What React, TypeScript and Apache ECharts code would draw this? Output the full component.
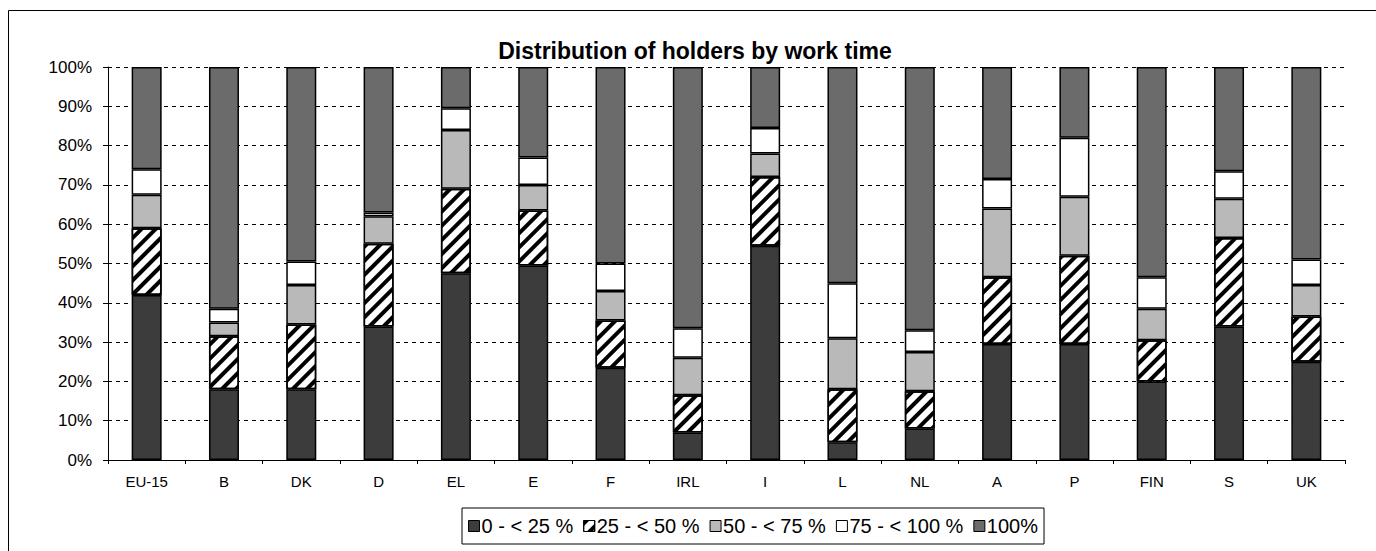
import React, { useEffect, useRef } from "react";
import * as echarts from "echarts";

const categories = ["EU-15", "B", "DK", "D", "EL", "E", "F", "IRL", "I", "L", "NL", "A", "P", "FIN", "S", "UK"];
const seriesNames = ["0 - < 25 %", "25 - < 50 %", "50 - < 75 %", "75 - < 100 %", "100%"];
const s0to25 = [42, 18, 18, 34, 47.5, 49.5, 23.5, 7, 54.5, 4.5, 8, 29.5, 29.5, 20, 34, 25];
const s25to50 = [17, 13.5, 16.5, 21, 21.5, 14, 12, 9.5, 17.5, 13.5, 9.5, 17, 22.5, 10.5, 22.5, 11.5];
const s50to75 = [8.5, 3.5, 10, 7, 15, 6.5, 7.5, 9.5, 6, 13, 10, 17.5, 15, 8, 10, 8];
const s75to100 = [6.5, 3.5, 6, 1, 5.5, 7, 7, 7.5, 6.5, 14, 5.5, 7.5, 15, 8, 7, 6.5];
const s100 = [26, 61.5, 49.5, 37, 10.5, 23, 50, 66.5, 15.5, 55, 67, 28.5, 18, 53.5, 26.5, 49];
const yTicks = [0, 10, 20, 30, 40, 50, 60, 70, 80, 90, 100];

const FONT = "Arial, 'Liberation Sans', sans-serif";

export default function App() {
  const ref = useRef<HTMLDivElement>(null);
  useEffect(() => {
    document.body.style.margin = "0";
    const chart = echarts.init(ref.current!, null, { renderer: "svg" });
    const values = [s0to25, s25to50, s50to75, s75to100, s100];
    const colors = ["#3c3c3c", "#ffffff", "#b9b9b9", "#ffffff", "#6b6b6b"];
    const series = values.map((v, i) => ({
      name: seriesNames[i],
      type: "bar",
      stack: "total",
      barWidth: 30,
      data: v,
      itemStyle: {
        color: colors[i],
        borderColor: "#000",
        borderWidth: 1.5,
        decal:
          i === 1
            ? {
                symbol: "rect",
                symbolSize: 1,
                color: "#000",
                dashArrayX: [1, 0],
                dashArrayY: [4, 6],
                rotation: -Math.PI / 4,
              }
            : "none",
      },
    }));
    chart.setOption({
      animation: false,
      backgroundColor: "#fff",
      title: {
        text: "Distribution of holders by work time",
        left: 690,
        textAlign: "center",
        top: 34,
        textStyle: { fontFamily: FONT, fontSize: 23, fontWeight: "bold", color: "#000" },
      },
      grid: { left: 108, right: 31, top: 67, bottom: 91 },
      legend: {
        left: 462,
        top: 508,
        itemWidth: 11,
        itemHeight: 11,
        itemGap: 10,
        icon: "rect",
        borderColor: "#000",
        borderWidth: 1,
        padding: [8, 6, 8, 6],
        textStyle: { fontFamily: FONT, fontSize: 20, color: "#000", padding: [0, 0, 0, -3] },
        itemStyle: { borderColor: "#000", borderWidth: 1 },
        data: seriesNames,
      },
      xAxis: {
        type: "category",
        data: categories,
        axisLine: { lineStyle: { color: "#000", width: 1 } },
        axisTick: { show: true, length: 4, lineStyle: { color: "#000" } },
        axisLabel: { fontFamily: FONT, fontSize: 15, color: "#000", margin: 14 },
      },
      yAxis: {
        type: "value",
        min: 0,
        max: 100,
        interval: 10,
        axisLine: { show: true, lineStyle: { color: "#000" } },
        axisTick: { show: true, length: 5, lineStyle: { color: "#000" } },
        axisLabel: {
          fontFamily: FONT,
          fontSize: 17,
          color: "#000",
          margin: 16,
          formatter: (v: number) => (yTicks.includes(v) ? v + "%" : ""),
        },
        splitLine: { show: true, lineStyle: { color: "#000", type: [4, 4], width: 1 } },
      },
      series,
      graphic: [
        {
          type: "rect",
          shape: { x: 8.5, y: 10.5, width: 1400, height: 600 },
          style: { fill: "none", stroke: "#000", lineWidth: 1 },
          silent: true,
        },
      ],
    });
    return () => chart.dispose();
  }, []);
  return <div ref={ref} style={{ width: 1376, height: 551 }} />;
}
